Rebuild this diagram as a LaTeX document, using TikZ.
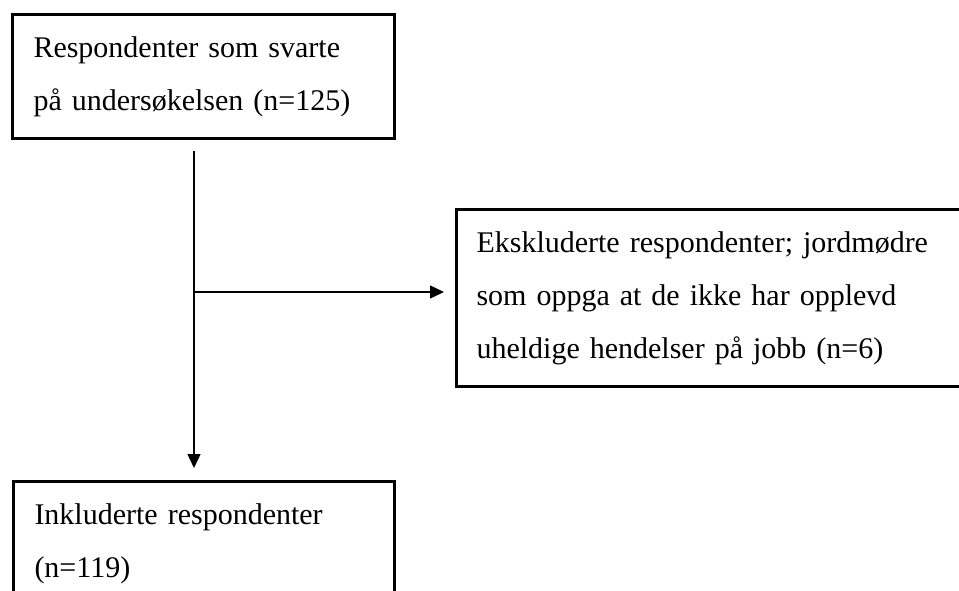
\documentclass[tikz,border=0pt]{standalone}
\usepackage{fontspec}
\setmainfont{Liberation Serif}
\usetikzlibrary{arrows.meta,positioning,calc}

\begin{document}
\begin{tikzpicture}[
    x=1pt, y=-1pt,
    box/.style={rectangle, draw, line width=3pt, align=left, inner xsep=21pt, minimum height=124pt, anchor=north west, font=\fontsize{30}{53}\selectfont},
    arrow/.style={-{Triangle[length=14pt,width=13pt]}, line width=1.3pt}
]
\useasboundingbox (0,0) rectangle (959,590);

% Boxes
\node[box, text width=340pt] (resp) at (11,13) {Respondenter som svarte\\på undersøkelsen (n=125)};
\node[box, text width=475pt, inner xsep=20pt, minimum height=177pt] (excl) at (455,208) {Ekskluderte respondenter; jordmødre\\som oppga at de ikke har opplevd\\uheldige hendelser på jobb (n=6)};
\node[box, text width=339pt] (incl) at (12,480) {Inkluderte respondenter\\(n=119)};

% Arrows
\coordinate (split) at (194,292);
\draw[arrow, shorten <=11pt, shorten >=12pt] (split |- resp.south) -- (split |- incl.north);
\draw[arrow, shorten >=11pt] (split) -- (split -| excl.west);

\end{tikzpicture}
\end{document}
